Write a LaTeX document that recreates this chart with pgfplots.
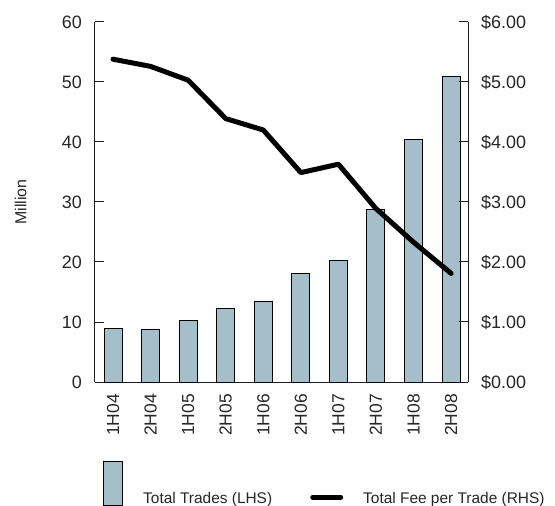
\documentclass[border=0pt]{standalone}
\usepackage{pgfplots}
\pgfplotsset{compat=1.18}
\usepackage{fontspec}
\setmainfont{Liberation Sans}
\definecolor{barcol}{RGB}{164,190,202}
\definecolor{axcol}{RGB}{30,30,30}
\begin{document}
\begin{tikzpicture}
\pgfplotsset{
  base/.style={
    scale only axis, width=373bp, height=360bp,
    at={(0,0)}, anchor=origin,
    xmin=-0.48, xmax=9.45,
    /pgf/number format/assume math mode=true,
    tick align=inside, major tick length=9bp,
    every tick/.style={axcol, line width=1bp},
    axis line style={axcol, line width=1bp},
    ticklabel style={font=\fontsize{18}{18}\selectfont, text=black!85},
  }
}
\begin{axis}[base,
  axis y line*=left, axis x line*=bottom,
  ymin=0, ymax=60, ytick={0,10,...,60},
  yticklabel style={anchor=east, inner sep=0pt, xshift=-13bp},
  xtick=data, xticklabels={1H04,2H04,1H05,2H05,1H06,2H06,1H07,2H07,1H08,2H08},
  x tick style={draw=none},
  xticklabel style={rotate=90, anchor=east, inner sep=0pt, xshift=-12bp, font=\fontsize{17.5}{17.5}\selectfont},
  ylabel={Million},
  ylabel shift=35bp,
  ylabel style={font=\fontsize{16}{16}\selectfont, text=black!85, inner sep=0pt},
  legend columns=2,
  legend style={draw=none, fill=none, at={(0,0)}, anchor=south west, xshift=8bp, yshift=-124bp, inner sep=0pt,
    nodes={inner sep=0pt, font=\fontsize{15.5}{15.5}\selectfont, text=black!85},
    /tikz/every odd column/.append style={column sep=20bp},
    /tikz/every even column/.append style={column sep=38bp}},
]
\addplot[ybar, bar width=18bp, fill=barcol, draw=black, line width=1bp,
  legend image code/.code={\draw[fill=barcol, draw=black, line width=1bp] (0bp,-7bp) rectangle (19bp,37bp);}]
  coordinates {(0,9.0) (1,8.7) (2,10.3) (3,12.2) (4,13.5) (5,18.05) (6,20.2) (7,28.8) (8,40.4) (9,50.9)};
\addlegendentry{Total Trades (LHS)}
\addlegendimage{legend image code/.code={\draw[black, line width=5bp, line cap=round] (2.5bp,1bp) -- (30.5bp,1bp);}}
\addlegendentry{Total Fee per Trade (RHS)}
\coordinate (bl) at (rel axis cs:0,0);
\end{axis}
\begin{axis}[base,
  axis y line*=right, axis x line=none,
  ymin=0, ymax=6, ytick={0,1,...,6},
  yticklabel style={anchor=west, inner sep=0pt, xshift=13bp},
  yticklabel={\$\pgfmathprintnumber[fixed,fixed zerofill,precision=2]{\tick}},
]
\addplot[black, line width=5bp, line join=round, line cap=round, mark=none]
  coordinates {(0,5.38) (1,5.26) (2,5.03) (3,4.39) (4,4.20) (5,3.49) (6,3.63) (7,2.89) (8,2.33) (9,1.81)};
\end{axis}
\pgfresetboundingbox
\path (bl) ++(-95bp,-124bp) rectangle ++(555bp,506bp);
\end{tikzpicture}
\end{document}
